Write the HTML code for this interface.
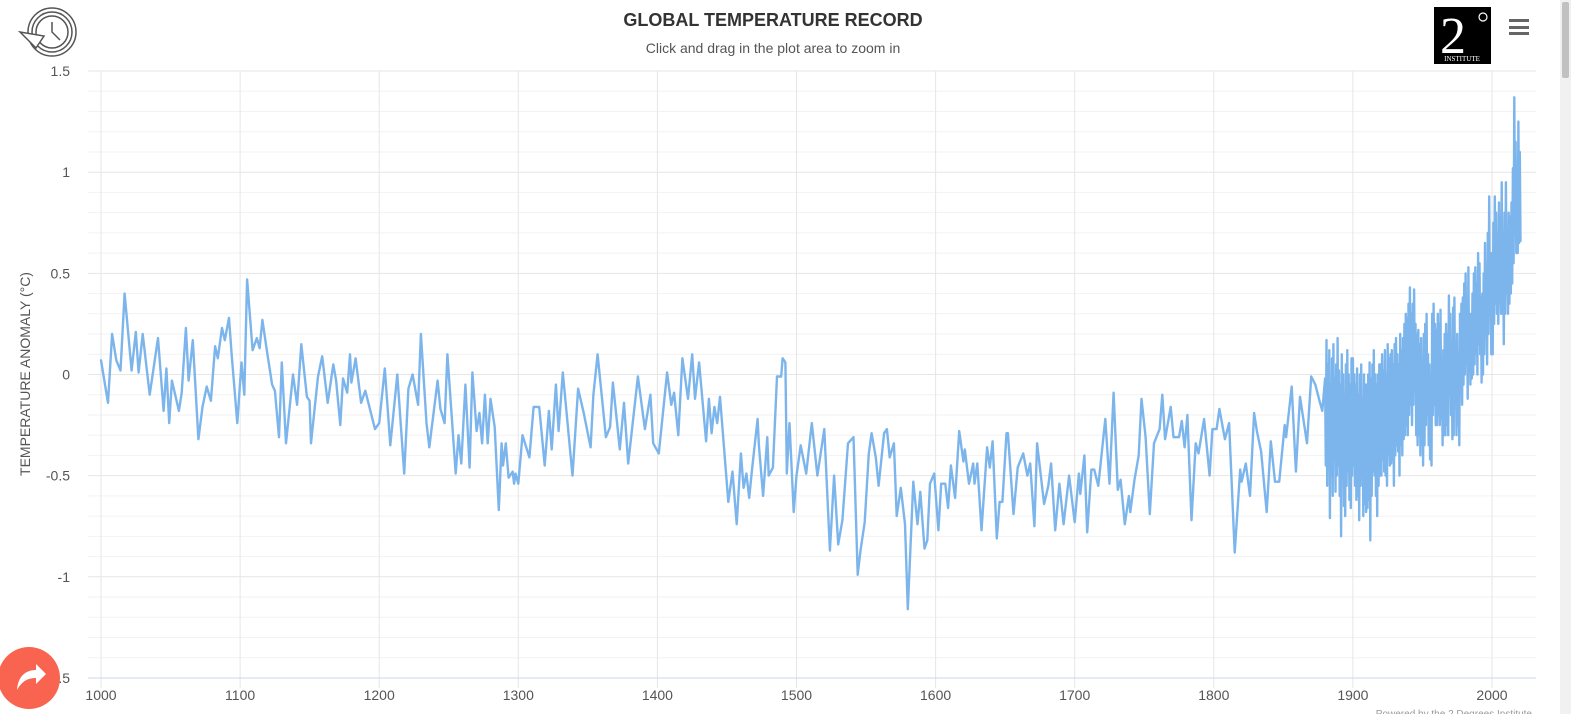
<!DOCTYPE html>
<html><head><meta charset="utf-8"><style>
html,body{margin:0;padding:0;background:#fff;width:1571px;height:714px;overflow:hidden;font-family:"Liberation Sans",sans-serif}
#scroll{position:absolute;left:1560px;top:0;width:11px;height:714px;background:#f1f1f1}
#thumb{position:absolute;left:1562px;top:2px;width:7px;height:76px;background:#c1c1c1;border-radius:2px}
</style></head><body>
<svg id="chart" width="1571" height="714" style="position:absolute;left:0;top:0">
<g id="grid"></g>
<g id="axes"></g>
<path id="series" fill="none" stroke="#7cb5ec" stroke-width="2.4" stroke-linejoin="round" stroke-linecap="round"></path>
<text x="773" y="26" text-anchor="middle" font-size="18" font-weight="bold" fill="#333">GLOBAL TEMPERATURE RECORD</text>
<text x="773" y="53" text-anchor="middle" font-size="14" fill="#555">Click and drag in the plot area to zoom in</text>
<text transform="translate(30,374) rotate(-90)" text-anchor="middle" font-size="14" fill="#555">TEMPERATURE ANOMALY (°C)</text>
<g fill="none" stroke="#555" stroke-width="1.5">
<circle cx="52" cy="32" r="24"/><circle cx="52" cy="32" r="20"/><circle cx="52" cy="32" r="16"/>
<path d="M52 22 L52 32 L60 40"/><path d="M20 32 L36 48 L44 36 Z" fill="#fff"/>
</g>
<g>
<rect x="1434" y="7" width="57" height="57" fill="#000"/>
<text x="1453" y="53" font-family="Liberation Serif,serif" font-size="52" fill="#fff" text-anchor="middle">2</text>
<circle cx="1483" cy="17" r="4" fill="none" stroke="#fff" stroke-width="1.2"/>
<text x="1462" y="61" font-family="Liberation Serif,serif" font-size="7" fill="#fff" text-anchor="middle">INSTITUTE</text>
</g>
<g fill="#666">
<rect x="1509" y="19" width="20" height="3"/><rect x="1509" y="26" width="20" height="3"/><rect x="1509" y="32" width="20" height="3"/>
</g>
<g>
<circle cx="29" cy="678" r="31" fill="#f96450"/>
<path d="M17 690 C18 676 26 670 36 670 L36 664 L46 674 L36 684 L36 678 C28 678 22 681 17 690 Z" fill="#fff"/>
</g>
<text x="1532" y="717" text-anchor="end" font-size="10" fill="#999">Powered by the 2 Degrees Institute</text>
</svg>
<div id="scroll"></div>
<div id="thumb"></div>
<script>
const histYears=[1000,1005,1008,1011,1014,1017,1022,1025,1027,1030,1035,1041,1045,1047,1049,1051,1056,1058,1061,1063,1066,1070,1073,1076,1079,1082,1084,1087,1089,1092,1094,1098,1101,1103,1105,1109,1112,1114,1116,1119,1123,1125,1128,1130,1133,1138,1141,1144,1148,1150,1151,1156,1159,1163,1167,1169,1172,1174,1177,1179,1180,1183,1187,1190,1194,1197,1200,1204,1208,1213,1218,1221,1224,1228,1230,1234,1236,1242,1244,1247,1249,1255,1257,1259,1262,1265,1267,1270,1272,1274,1276,1278,1280,1283,1286,1288,1289,1291,1293,1296,1297,1298,1300,1303,1308,1311,1315,1319,1322,1324,1327,1329,1332,1339,1343,1347,1352,1354,1357,1363,1366,1368,1373,1376,1379,1386,1391,1395,1397,1401,1407,1410,1412,1415,1418,1422,1425,1427,1430,1435,1437,1439,1441,1443,1445,1451,1454,1457,1460,1462,1464,1466,1468,1472,1473,1476,1479,1480,1483,1486,1489,1490,1492,1493,1495,1498,1500,1503,1507,1511,1515,1520,1524,1527,1530,1533,1537,1541,1544,1546,1549,1552,1554,1557,1559,1563,1565,1567,1570,1572,1575,1578,1580,1584,1587,1589,1592,1594,1596,1599,1602,1604,1607,1609,1611,1614,1617,1620,1621,1624,1627,1628,1630,1633,1637,1639,1641,1644,1646,1648,1651,1652,1656,1659,1663,1666,1668,1671,1673,1678,1681,1683,1686,1689,1692,1696,1700,1703,1704,1707,1709,1712,1714,1717,1722,1725,1728,1731,1733,1736,1739,1740,1743,1746,1748,1751,1754,1757,1761,1763,1765,1769,1771,1775,1777,1779,1781,1784,1787,1789,1793,1797,1799,1802,1804,1808,1811,1815,1819,1820,1823,1826,1829,1831,1834,1838,1841,1844,1847,1851,1852,1856,1859,1862,1867,1870,1873,1876,1878];
const histVals=[.07,-.14,.2,.07,.02,.4,.02,.21,.01,.2,-.1,.18,-.18,.03,-.24,-.03,-.18,-.09,.23,-.03,.17,-.32,-.16,-.06,-.13,.14,.08,.23,.17,.28,.09,-.24,.06,-.1,.47,.12,.18,.13,.27,.13,-.05,-.08,-.31,.06,-.34,0,-.15,.15,-.11,-.13,-.34,-.01,.09,-.14,.05,-.03,-.25,-.02,-.09,.1,-.04,.08,-.14,-.08,-.19,-.27,-.24,.03,-.35,0,-.49,-.07,0,-.15,.2,-.24,-.36,-.03,-.17,-.24,.1,-.49,-.3,-.44,-.05,-.46,.01,-.28,-.19,-.34,-.1,-.34,-.12,-.26,-.67,-.34,-.45,-.34,-.51,-.48,-.54,-.49,-.54,-.3,-.41,-.16,-.16,-.45,-.18,-.37,-.05,-.28,.01,-.5,-.07,-.19,-.36,-.1,.1,-.31,-.26,-.04,-.37,-.14,-.44,-.01,-.27,-.1,-.34,-.39,.01,-.15,-.09,-.3,.08,-.12,.1,-.12,.06,-.33,-.12,-.29,-.16,-.24,-.11,-.63,-.48,-.74,-.39,-.56,-.49,-.61,-.47,-.22,-.35,-.6,-.31,-.5,-.46,-.01,-.01,.08,.06,-.49,-.24,-.68,-.5,-.35,-.49,-.24,-.5,-.27,-.87,-.5,-.84,-.72,-.34,-.31,-.99,-.87,-.73,-.39,-.29,-.41,-.55,-.29,-.27,-.41,-.34,-.7,-.56,-.74,-1.16,-.53,-.74,-.58,-.86,-.82,-.54,-.49,-.77,-.54,-.54,-.66,-.45,-.61,-.28,-.43,-.37,-.54,-.44,-.54,-.44,-.77,-.36,-.46,-.33,-.81,-.63,-.63,-.29,-.29,-.69,-.46,-.39,-.5,-.44,-.75,-.34,-.64,-.55,-.44,-.77,-.54,-.74,-.5,-.73,-.49,-.59,-.4,-.78,-.47,-.47,-.55,-.22,-.54,-.09,-.57,-.52,-.74,-.6,-.68,-.52,-.4,-.12,-.31,-.69,-.34,-.27,-.1,-.32,-.16,-.31,-.31,-.23,-.36,-.2,-.72,-.34,-.39,-.22,-.5,-.27,-.27,-.17,-.32,-.24,-.88,-.47,-.53,-.44,-.6,-.19,-.28,-.38,-.68,-.33,-.53,-.53,-.25,-.31,-.06,-.48,-.11,-.34,-.01,-.05,-.13,-.18];
const modernStart=1880;
const modernHi=[-.02,.17,.05,.12,-.05,.08,.15,-.02,.05,.18, .02,-.05,.1,0,-.1,.05,.12,0,-.05,.08, .08,0,-.05,.03,-.1,0,.05,-.12,0,-.05, -.05,0,.06,-.02,.05,.12,0,-.05,0,.05, .05,.1,.02,.12,0,.15,.08,.1,.12,.05, .15,.18,.1,.05,.2,.12,.18,.25,.3,.28, .35,.43,.3,.35,.42,.25,.2,.22,.15,.18, .05,.2,.25,.3,.1,.05,0,.3,.35,.25, .22,.3,.25,.32,.05,.12,.2,.25,.2,.39, .3,.15,.33,.38,.12,.2,.1,.3,.35,.38, .45,.5,.35,.53,.3,.3,.4,.5,.53,.45, .6,.55,.38,.4,.5,.65,.45,.7,.88,.6, .6,.75,.88,.8,.7,.85,.75,.95,.6,.8, .95,.7,.8,.78,.85,1.02,1.37,1.15,.98,1.25,1.1];
const modernLo=[-.45,-.55,-.4,-.71,-.5,-.6,-.42,-.58,-.5,-.45, -.6,-.8,-.5,-.65,-.7,-.55,-.48,-.62,-.66,-.5, -.45,-.55,-.62,-.6,-.72,-.55,-.5,-.7,-.64,-.68, -.66,-.62,-.82,-.6,-.48,-.5,-.6,-.7,-.55,-.5, -.5,-.42,-.48,-.5,-.55,-.4,-.45,-.44,-.42,-.55, -.4,-.35,-.38,-.5,-.35,-.4,-.32,-.3,-.25,-.3, -.2,-.15,-.25,-.15,-.05,-.3,-.35,-.3,-.4,-.35, -.45,-.35,-.25,-.2,-.35,-.42,-.45,-.2,-.15,-.25, -.25,-.2,-.25,-.22,-.35,-.3,-.3,-.25,-.3,-.1, -.2,-.32,-.3,-.1,-.3,-.25,-.35,-.1,-.15,-.05, 0,.05,-.12,.1,-.05,-.02,0,.05,.1,0, .15,.1,-.04,0,.1,.2,.05,.2,.3,.1, .1,.25,.35,.3,.25,.35,.3,.3,.15,.3, .4,.3,.35,.4,.45,.55,.7,.6,.6,.65,.66];
const xTicks=[1000,1100,1200,1300,1400,1500,1600,1700,1800,1900,2000];
const yTicks=[1.5,1,0.5,0,-0.5,-1,-1.5];
const yTickLabels=["1.5","1","0.5","0","-0.5","-1","-1.5"];

const X=y=>101+(y-1000)*1.391;
const Y=v=>374.5-v*202.3;
const NS="http://www.w3.org/2000/svg";
function mk(tag,attrs,parent){const e=document.createElementNS(NS,tag);for(const k in attrs)e.setAttribute(k,attrs[k]);parent.appendChild(e);return e;}
const grid=document.getElementById('grid'),axes=document.getElementById('axes');
for(let i=-15;i<=15;i++){
  const v=i/10;
  const l=mk('line',{x1:88,x2:1536,y1:Y(v),y2:Y(v),stroke:(i%5===0)?'#e6e6e6':'#f2f2f2','stroke-width':1},grid);
  
  
}
xTicks.forEach(t=>{
  const l=mk('line',{x1:X(t),x2:X(t),y1:71,y2:688,stroke:'#e6e6e6','stroke-width':1},grid);
  
  
  const tx=mk('text',{x:X(t),y:700,'text-anchor':'middle','font-size':14,fill:'#555'},axes);
  tx.textContent=t;
  
  
});
const ax=mk('line',{x1:88,x2:1536,y1:Y(-1.5),y2:Y(-1.5),stroke:'#ccd6eb','stroke-width':1},axes);


yTicks.forEach((t,i)=>{
  const tx=mk('text',{x:70,y:Y(t)+5,'text-anchor':'end','font-size':14,fill:'#555'},axes);
  tx.textContent=yTickLabels[i];
  
  
});
let pts=[];
histYears.forEach((yr,i)=>pts.push([X(yr),Y(histVals[i])]));
modernHi.forEach((h,i)=>{const yr=modernStart+i;pts.push([X(yr),Y(h)]);pts.push([X(yr+0.5),Y(modernLo[i])]);});
document.getElementById('series').setAttribute('d','M'+pts.map(p=>p[0].toFixed(1)+' '+p[1].toFixed(1)).join(' L'));
</script>
</body></html>
